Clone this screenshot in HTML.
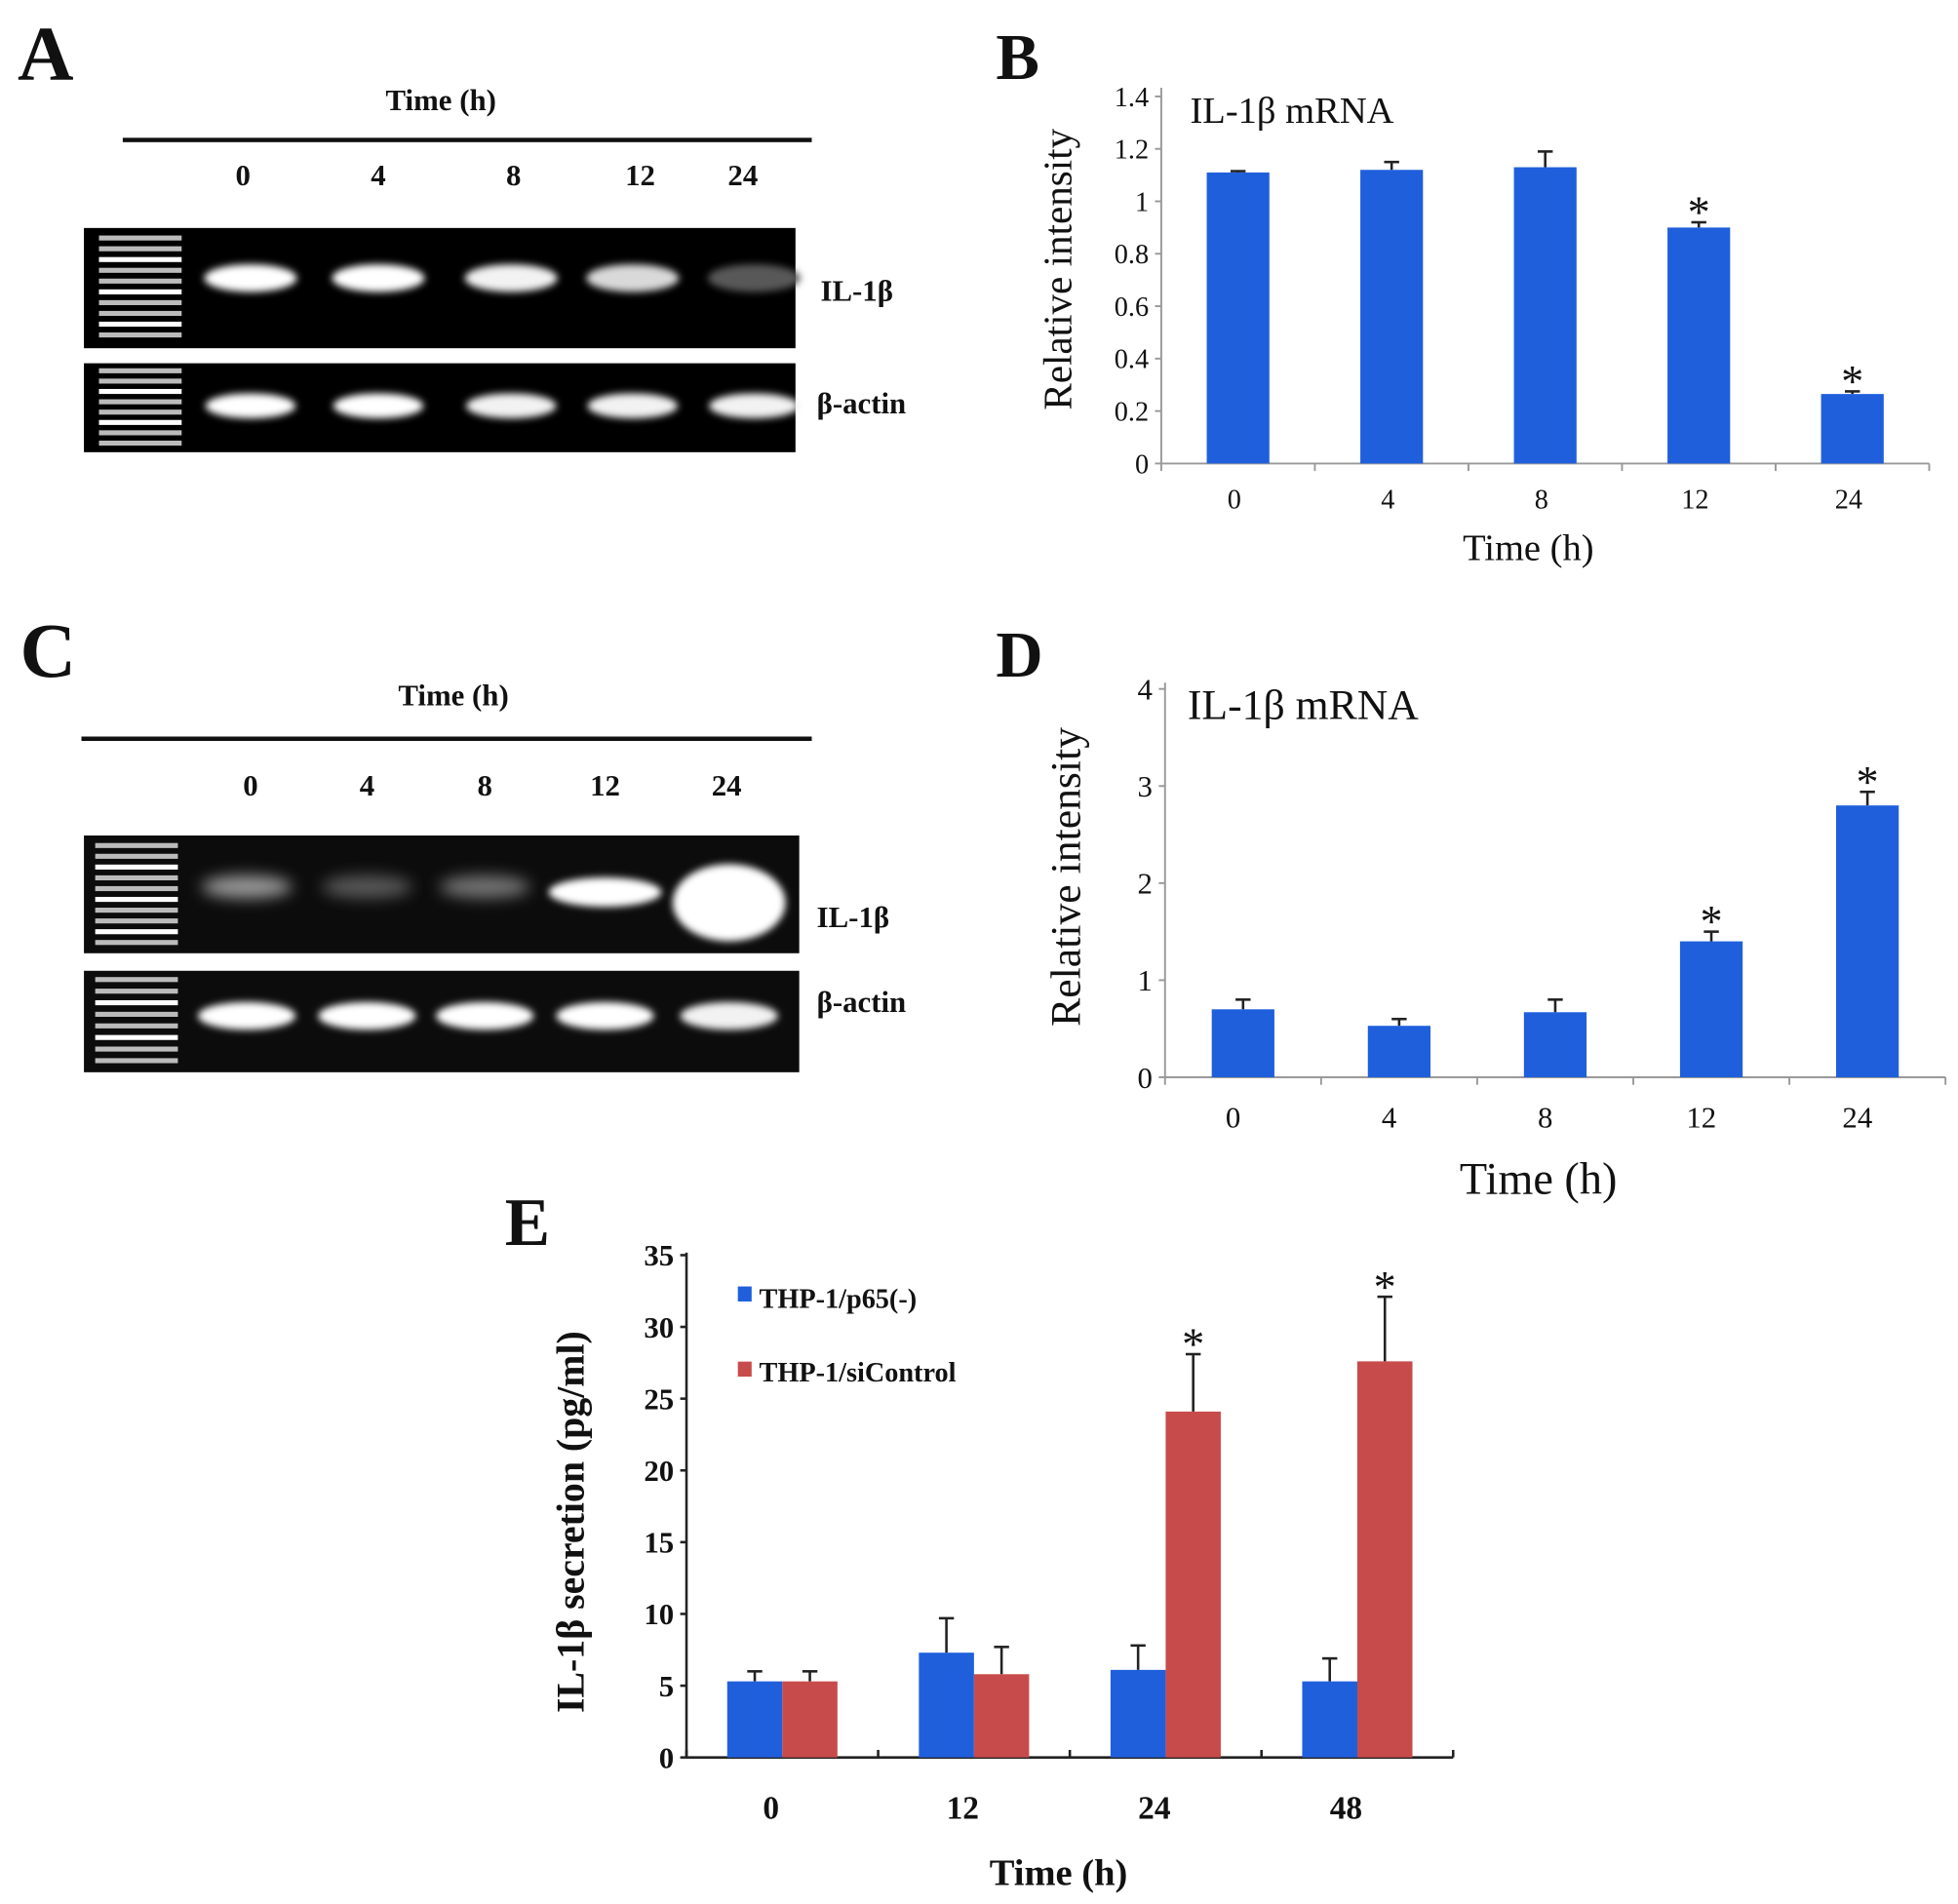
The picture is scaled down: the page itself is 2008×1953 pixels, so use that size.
<!DOCTYPE html>
<html><head><meta charset="utf-8"><style>
html,body{margin:0;padding:0;background:#fff}
svg{display:block}
text{font-family:"Liberation Serif","DejaVu Serif",serif;fill:#111}
.b{font-weight:bold}
</style></head><body>
<svg id="fig" width="2008" height="1953" viewBox="0 0 1563 1520" preserveAspectRatio="none" xmlns="http://www.w3.org/2000/svg">
<defs>
<filter id="blur" x="-30%" y="-80%" width="160%" height="260%"><feGaussianBlur stdDeviation="3"/></filter>
<filter id="blur2" x="-30%" y="-80%" width="160%" height="260%"><feGaussianBlur stdDeviation="6"/></filter>
</defs>
<g id="panelA">
<text x="14" y="64" font-size="62" class="b">A</text>
<text x="352" y="88" font-size="24" class="b" text-anchor="middle">Time (h)</text>
<rect x="98" y="110" width="550" height="3.5" fill="#111"/>
<g font-size="24" class="b" text-anchor="middle">
<text x="194" y="148">0</text><text x="302" y="148">4</text><text x="410" y="148">8</text><text x="511" y="148">12</text><text x="593" y="148">24</text></g>
<rect x="67" y="182" width="568" height="96" fill="#000"/>
<rect x="67" y="290" width="568" height="71" fill="#000"/>
<text x="655" y="240" font-size="24" class="b">IL-1β</text>
<text x="652" y="330" font-size="24" class="b">β-actin</text>
</g>
<g id="panelC">
<text x="16" y="540" font-size="62" class="b">C</text>
<text x="362" y="563" font-size="24" class="b" text-anchor="middle">Time (h)</text>
<rect x="65" y="588" width="583" height="3.5" fill="#111"/>
<g font-size="24" class="b" text-anchor="middle">
<text x="200" y="635">0</text><text x="293" y="635">4</text><text x="387" y="635">8</text><text x="483" y="635">12</text><text x="580" y="635">24</text></g>
<rect x="67" y="667" width="571" height="94" fill="#0c0c0c"/>
<rect x="67" y="775" width="571" height="81" fill="#0c0c0c"/>
<text x="652" y="740" font-size="24" class="b">IL-1β</text>
<text x="652" y="808" font-size="24" class="b">β-actin</text>
</g>
<g id="panelB">
<text x="795" y="63" font-size="52" class="b">B</text>
<text x="950" y="98" font-size="30">IL-1β mRNA</text>
<text transform="translate(855,215) rotate(-90)" font-size="32" text-anchor="middle">Relative intensity</text>
<text x="1220" y="447" font-size="30" text-anchor="middle">Time (h)</text>
</g>
<g id="panelD">
<text x="795" y="540" font-size="52" class="b">D</text>
<text x="948" y="574" font-size="34">IL-1β mRNA</text>
<text transform="translate(862,700) rotate(-90)" font-size="34" text-anchor="middle">Relative intensity</text>
<text x="1228" y="953" font-size="36" text-anchor="middle">Time (h)</text>
</g>
<g id="panelE">
<text x="403" y="994" font-size="54" class="b">E</text>
<text transform="translate(466,1215) rotate(-90)" font-size="31" class="b" text-anchor="middle">IL-1β secretion (pg/ml)</text>
<text x="845" y="1505" font-size="30" class="b" text-anchor="middle">Time (h)</text>
<rect x="589" y="1027" width="11" height="12" fill="#1f5fdc"/>
<text x="606" y="1044" font-size="22" class="b">THP-1/p65(-)</text>
<rect x="589" y="1087" width="11" height="12" fill="#c84b4b"/>
<text x="606" y="1103" font-size="22" class="b">THP-1/siControl</text>
</g>
</svg>
<script>
const gelLanesA = [200, 302, 408, 505, 602];
const gelAIl1b = [1, 1, 0.95, 0.85, 0.35];
const gelAActin = [1, 1, 0.95, 0.95, 0.95];
const gelLanesC = [197, 293, 387, 483, 582];
const gelCIl1b = [0.6, 0.35, 0.45, 1, 1];
const gelCIl1bSize = [1, 1, 1, 1.3, 1.9];
const gelCActin = [1, 1, 1, 1, 0.95];

const catsB = ['0','4','8','12','24'];
const valsB = [1.11, 1.12, 1.13, 0.9, 0.265];
const errB = [0.005, 0.03, 0.06, 0.02, 0.01];
const sigB = [false, false, false, true, true];
const ticksB = ['0','0.2','0.4','0.6','0.8','1','1.2','1.4'];
const catsD = ['0','4','8','12','24'];
const valsD = [0.7, 0.53, 0.67, 1.4, 2.8];
const errD = [0.1, 0.07, 0.13, 0.1, 0.14];
const sigD = [false, false, false, true, true];
const ticksD = ['0','1','2','3','4'];
const catsE = ['0','12','24','48'];
const valsEBlue = [5.3, 7.3, 6.1, 5.3];
const valsERed = [5.3, 5.8, 24.1, 27.6];
const errEBlue = [0.7, 2.4, 1.7, 1.6];
const errERed = [0.7, 1.9, 4.0, 4.5];
const sigE = [false, false, true, true];
const ticksE = ['0','5','10','15','20','25','30','35'];

const NS = 'http://www.w3.org/2000/svg';
function mk(parent, tag, attrs) {
  const e = document.createElementNS(NS, tag);
  for (const k in attrs) e.setAttribute(k, attrs[k]);
  parent.appendChild(e);
  return e;
}
function ladder(g, x, y, h, n) {
  for (let i = 0; i < n; i++) {
    const r = mk(g, 'rect', {x: x, y: y + i * h / n + 2, width: 66, height: 4, fill: i % 3 === 2 ? '#fff' : '#bbb'});
    
    
  }
}
function band(g, cx, cy, w, h, inten, blurId) {
  const v = Math.round(255 * inten);
  const e = mk(g, 'ellipse', {cx: cx, cy: cy, rx: w / 2, ry: h / 2, fill: `rgb(${v},${v},${v})`, filter: `url(#${blurId})`});
  
  
}
const gA = document.getElementById('panelA');
ladder(gA, 79, 186, 86, 10);
ladder(gA, 79, 292, 66, 8);
gelLanesA.forEach((x, i) => band(gA, x, 222, 74, 22, gelAIl1b[i], 'blur'));
gelLanesA.forEach((x, i) => band(gA, x, 324, 72, 20, gelAActin[i], 'blur'));
const gC = document.getElementById('panelC');
ladder(gC, 76, 671, 86, 10);
ladder(gC, 76, 778, 74, 8);
gelLanesC.forEach((x, i) => band(gC, x, 708 + (gelCIl1bSize[i] - 1) * 14, 72 * Math.min(gelCIl1bSize[i], 1.25), 18 * gelCIl1bSize[i] * (i === 4 ? 1.8 : 1), gelCIl1b[i], i >= 3 ? 'blur' : 'blur2'));
gelLanesC.forEach((x, i) => band(gC, x, 811, 78, 22, gelCActin[i], 'blur'));

function barChart(gid, cfg) {
  const g = document.getElementById(gid);
  const y = v => cfg.y0 - (v / cfg.ymax) * (cfg.y0 - cfg.ytop);
  const n = cfg.cats.length;
  const step = (cfg.x1 - cfg.x0) / n;
  const xc = i => cfg.x0 + step * (i + 0.5);
  mk(g, 'line', {x1: cfg.x0, y1: cfg.y0, x2: cfg.x0, y2: cfg.axisTop, stroke: cfg.axisCol, 'stroke-width': cfg.aw});
  mk(g, 'line', {x1: cfg.x0, y1: cfg.y0, x2: cfg.x1, y2: cfg.y0, stroke: cfg.axisCol, 'stroke-width': cfg.aw});
  cfg.ticks.forEach((t, i) => {
    const v = parseFloat(t);
    const yy = y(v);
    mk(g, 'line', {x1: cfg.x0 - 5, y1: yy, x2: cfg.x0, y2: yy, stroke: cfg.axisCol, 'stroke-width': cfg.aw});
    const tx = mk(g, 'text', {x: cfg.x0 - 10, y: yy + cfg.tfs * 0.35, 'font-size': cfg.tfs, 'text-anchor': 'end', class: cfg.bold ? 'b' : ''});
    tx.textContent = t;
    
    
  });
  for (let i = 0; i <= n; i++) {
    const xx = cfg.x0 + step * i;
    mk(g, 'line', {x1: xx, y1: cfg.y0, x2: xx, y2: cfg.y0 + cfg.tickDir * 6, stroke: cfg.axisCol, 'stroke-width': cfg.aw});
  }
  cfg.cats.forEach((c, i) => {
    const tx = mk(g, 'text', {x: xc(i) + (cfg.labOff || 0), y: cfg.xLabY, 'font-size': cfg.xfs, 'text-anchor': 'middle', class: cfg.bold ? 'b' : ''});
    tx.textContent = c;
    
    
    const series = cfg.series;
    const totalW = cfg.bw * series.length;
    series.forEach((s, k) => {
      const bx = xc(i) - totalW / 2 + k * cfg.bw;
      const v = s.vals[i];
      const top = y(v + s.err[i]);
      const midx = bx + cfg.bw / 2;
      mk(g, 'line', {x1: midx, y1: y(v), x2: midx, y2: top, stroke: '#222', 'stroke-width': 2});
      mk(g, 'line', {x1: midx - 6, y1: top, x2: midx + 6, y2: top, stroke: '#222', 'stroke-width': 2});
      const r = mk(g, 'rect', {x: bx, y: y(v), width: cfg.bw, height: cfg.y0 - y(v), fill: s.color});
      
      
      if (s.sig && s.sig[i]) {
        const st = mk(g, 'text', {x: midx, y: top - 14 + 0.5 * cfg.sfs, 'font-size': cfg.sfs, 'text-anchor': 'middle'});
        st.textContent = '*';
        
        
      }
    });
  });
}
barChart('panelB', {cats: catsB, ticks: ticksB, ymax: 1.4, x0: 927, x1: 1540, y0: 370, ytop: 77, axisTop: 70,
  axisCol: '#999', aw: 1.5, tfs: 22, xfs: 22, xLabY: 406, bw: 50, tickDir: 1, sfs: 36, labOff: -3,
  series: [{name: 'b', vals: valsB, err: errB, sig: sigB, color: '#1f5fdc'}]});
barChart('panelD', {cats: catsD, ticks: ticksD, ymax: 4, x0: 930, x1: 1553, y0: 860, ytop: 550, axisTop: 545,
  axisCol: '#999', aw: 1.5, tfs: 24, xfs: 24, xLabY: 900, bw: 50, tickDir: 1, sfs: 36, labOff: -8,
  series: [{name: 'd', vals: valsD, err: errD, sig: sigD, color: '#1f5fdc'}]});
barChart('panelE', {cats: catsE, ticks: ticksE, ymax: 35, x0: 548, x1: 1160, y0: 1403, ytop: 1002, axisTop: 1000,
  axisCol: '#222', aw: 2, tfs: 24, xfs: 26, xLabY: 1452, bw: 44, tickDir: -1, sfs: 36, bold: true, labOff: -9,
  series: [{name: 'p65', vals: valsEBlue, err: errEBlue, color: '#1f5fdc'},
           {name: 'sicontrol', vals: valsERed, err: errERed, sig: sigE, color: '#c84b4b'}]});
</script>
</body></html>
